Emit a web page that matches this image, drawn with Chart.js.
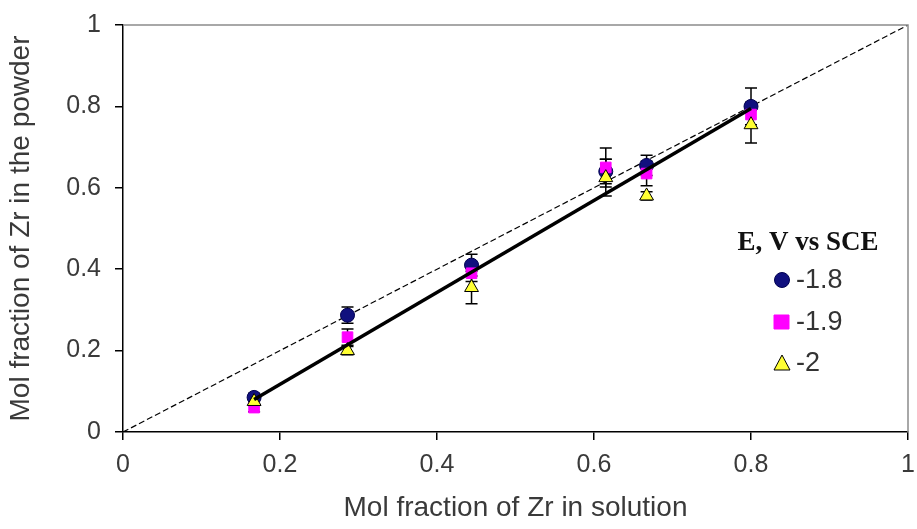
<!DOCTYPE html>
<html>
<head>
<meta charset="utf-8">
<script src="https://cdn.jsdelivr.net/npm/chart.js@4"></script>
<style>
  html, body { margin: 0; padding: 0; background: #fff; }
  #wrap { width: 917px; height: 529px; }
</style>
</head>
<body>
<div id="wrap"><canvas id="zrChart" width="917" height="529"></canvas></div>
<script>
// mol fraction of Zr in solution
const xSolution = [0.167, 0.286, 0.444, 0.615, 0.667, 0.8];

// mol fraction of Zr in the powder, per potential (V vs SCE)
const powder18 = [0.085, 0.287, 0.41, 0.64, 0.655, 0.80];
const err18 = [0.01, 0.02, 0.027, 0.03, 0.025, 0.045];
const powder19 = [0.06, 0.233, 0.39, 0.65, 0.635, 0.78];
const err19 = [0.01, 0.02, 0.02, 0.048, 0.03, 0.03];
const powder20 = [0.075, 0.2, 0.355, 0.625, 0.58, 0.755];
const err20 = [0.01, 0.01, 0.04, 0.045, 0.01, 0.045];

const seriesLabels = ['-1.8', '-1.9', '-2'];
const legendTitle = 'E, V vs SCE';

// trend line and y = x reference
const fitLine = [[0.167, 0.08], [0.8, 0.795]];
const identityLine = [[0, 0], [1, 1]];

const tickValues = [0, 0.2, 0.4, 0.6, 0.8, 1];

const toPts = (xs, ys) => xs.map((x, i) => ({ x: x, y: ys[i] }));
const errs = [err18, err19, err20];

const errorBars = {
  id: 'errorBars',
  beforeDatasetsDraw(chart) {
    const { ctx, scales: { x, y } } = chart;
    ctx.save();
    ctx.strokeStyle = '#000';
    ctx.lineWidth = 1.5;
    [powder18, powder19, powder20].forEach((ys, s) => {
      ys.forEach((v, i) => {
        const px = x.getPixelForValue(xSolution[i]);
        const top = y.getPixelForValue(v + errs[s][i]);
        const bot = y.getPixelForValue(v - errs[s][i]);
        ctx.beginPath();
        ctx.moveTo(px, top); ctx.lineTo(px, bot);
        ctx.moveTo(px - 6, top); ctx.lineTo(px + 6, top);
        ctx.moveTo(px - 6, bot); ctx.lineTo(px + 6, bot);
        ctx.stroke();
      });
    });
    ctx.restore();
  }
};

const frameAndLegend = {
  id: 'frameAndLegend',
  afterDraw(chart) {
    const { ctx, chartArea: a } = chart;
    ctx.save();
    ctx.strokeStyle = '#8c8c8c';
    ctx.lineWidth = 1.5;
    ctx.beginPath();
    ctx.moveTo(a.left, a.top); ctx.lineTo(a.right, a.top); ctx.lineTo(a.right, a.bottom);
    ctx.stroke();

    // legend
    ctx.fillStyle = '#111';
    ctx.font = 'bold 27px "Liberation Serif", "DejaVu Serif", serif';
    ctx.textAlign = 'center';
    ctx.textBaseline = 'middle';
    ctx.fillText(legendTitle, 808, 243);
    ctx.font = '27px "Liberation Sans", Arial, sans-serif';
    ctx.textAlign = 'left';
    const ys = [280, 322, 363];
    chart.data.datasets.slice(0, 3).forEach((ds, i) => {
      const cy = ys[i];
      ctx.fillStyle = ds.backgroundColor;
      ctx.strokeStyle = ds.borderColor;
      ctx.lineWidth = 1;
      ctx.beginPath();
      if (ds.pointStyle === 'circle') {
        ctx.arc(782, cy, 7.5, 0, Math.PI * 2);
      } else if (ds.pointStyle === 'rect') {
        ctx.rect(774, cy - 7, 15, 14);
      } else {
        ctx.moveTo(782, cy - 8); ctx.lineTo(790, cy + 7); ctx.lineTo(774, cy + 7); ctx.closePath();
      }
      ctx.fill(); ctx.stroke();
      ctx.fillStyle = '#333';
      ctx.fillText(seriesLabels[i], 796, cy + 1);
    });
    ctx.restore();
  }
};

const tickFont = { family: '"Liberation Sans", Arial, sans-serif', size: 25 };
const titleFont = { family: '"Liberation Sans", Arial, sans-serif', size: 28 };

new Chart(document.getElementById('zrChart'), {
  type: 'scatter',
  data: {
    datasets: [
      { label: seriesLabels[0], data: toPts(xSolution, powder18), pointStyle: 'circle', pointRadius: 7,
        backgroundColor: '#10107e', borderColor: '#000050', borderWidth: 1, order: 3 },
      { label: seriesLabels[1], data: toPts(xSolution, powder19), pointStyle: 'rect', pointRadius: 7.5,
        backgroundColor: '#ff00ff', borderColor: '#ff00ff', borderWidth: 1, order: 2 },
      { label: seriesLabels[2], data: toPts(xSolution, powder20), pointStyle: 'triangle', pointRadius: 8,
        backgroundColor: '#ffff33', borderColor: '#000', borderWidth: 1, order: 1 },
      { label: 'fit', data: fitLine.map(p => ({ x: p[0], y: p[1] })), showLine: true, pointRadius: 0,
        borderColor: '#000', borderWidth: 3.5, order: 0 },
      { label: 'y=x', data: identityLine.map(p => ({ x: p[0], y: p[1] })), showLine: true, pointRadius: 0,
        borderColor: '#000', borderWidth: 1.2, borderDash: [6, 3], order: 4 }
    ]
  },
  options: {
    responsive: false,
    animation: false,
    layout: { padding: { left: 0, right: 9, top: 25, bottom: 0 } },
    plugins: { legend: { display: false }, tooltip: { enabled: false } },
    scales: {
      x: {
        type: 'linear', min: 0, max: 1,
        afterBuildTicks(s) { s.ticks = tickValues.map(v => ({ value: v })); },
        afterFit(s) { s.height = 97; s.paddingLeft = 0; s.paddingRight = 0; },
        ticks: { font: tickFont, color: '#3a3a3a', padding: 10, callback: v => String(v) },
        grid: { drawOnChartArea: false, color: '#000', tickLength: 8, lineWidth: 1.5 },
        border: { color: '#000', width: 1.5 },
        title: { display: true, text: 'Mol fraction of Zr in solution', font: titleFont, color: '#3a3a3a', padding: { top: 6 } }
      },
      y: {
        type: 'linear', min: 0, max: 1,
        afterBuildTicks(s) { s.ticks = tickValues.map(v => ({ value: v })); },
        afterFit(s) { s.width = 123; s.paddingTop = 0; s.paddingBottom = 0; },
        ticks: { font: tickFont, color: '#3a3a3a', padding: 14, callback: v => String(v) },
        grid: { drawOnChartArea: false, color: '#000', tickLength: 8, lineWidth: 1.5 },
        border: { color: '#000', width: 1.5 },
        title: { display: true, text: 'Mol fraction of Zr in the powder', font: titleFont, color: '#3a3a3a', padding: { bottom: 4 } }
      }
    }
  },
  plugins: [errorBars, frameAndLegend]
});
</script>
</body>
</html>
